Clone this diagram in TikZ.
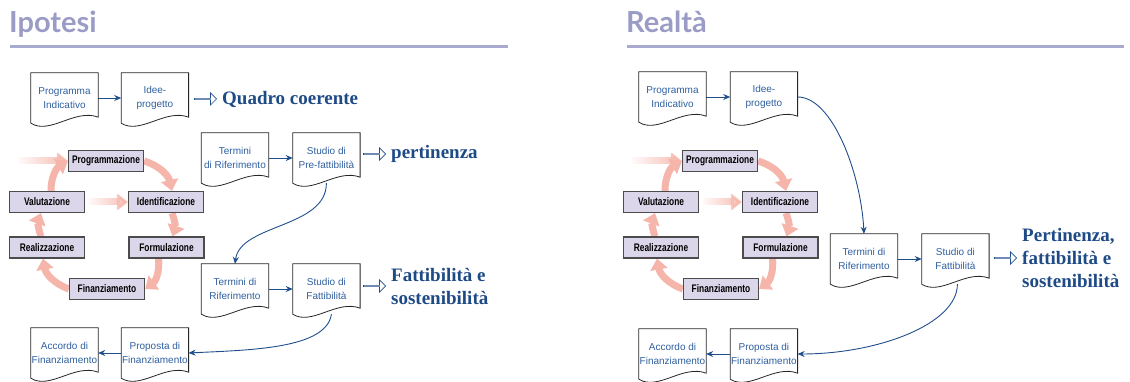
\documentclass[tikz,border=0pt]{standalone}
\usepackage{fontspec}
\setmainfont{Liberation Serif}
\setsansfont{Liberation Sans}
\newfontfamily\titlefont{Lato}
\usepackage{graphicx}
\usetikzlibrary{positioning, arrows.meta, fadings, shapes.arrows}

\definecolor{docblue}{HTML}{2F5F9F}
\definecolor{arrowblue}{HTML}{1F4E8C}
\definecolor{bigblue}{HTML}{1E4A86}
\definecolor{titlegrey}{HTML}{9A9CC5}
\definecolor{rulegrey}{HTML}{A9ABCE}
\definecolor{faselilla}{HTML}{DCD6EA}
\definecolor{giropink}{HTML}{F5B5AA}

\pgfdeclarelayer{back}
\pgfsetlayers{back,main}
\tikzfading[name=entra, left color=transparent!100, right color=transparent!0]

\newcommand{\stretto}[1]{\scalebox{0.76}[1]{#1}}

\tikzset{
    fase/.style={draw=black!70, line width=1.2pt, fill=faselilla, minimum width=75pt,
        minimum height=21pt, inner sep=0pt, font=\sffamily\bfseries\fontsize{11}{11}\selectfont},
    giro/.style={draw=giropink, line width=7pt, -{Triangle[length=11pt,width=17pt]}},
    ingresso/.style={giro, path fading=entra},
    ciclo/.pic={
        \node[fase] (-prog)  at (0,64)       {\stretto{Programmazione}};
        \node[fase] (-val)   at (-59,23)     {\stretto{Valutazione}};
        \node[fase] (-ident) at (60,23)      {\stretto{Identificazione}};
        \node[fase] (-real)  at (-59,-22.5)  {\stretto{Realizzazione}};
        \node[fase] (-form)  at (60.5,-22.5) {\stretto{Formulazione}};
        \node[fase] (-fin)   at (1,-64)      {\stretto{Finanziamento}};
        \coordinate (-in1) at (-88,64);
        \coordinate (-in2) at (-17,23);
        \begin{pgfonlayer}{back}
            \draw[ingresso] (-in1) -- (-prog.west);
            \draw[ingresso] (-in2) -- (-ident.west);
            \draw[giro] (-prog.east) to[bend left=30] ([xshift=6pt]-ident.north);
            \draw[giro] ([xshift=6pt]-ident.south) to[bend left=20] ([xshift=6pt]-form.north);
            \draw[giro] ([xshift=-8pt]-form.south) to[bend left=30] (-fin.east);
            \draw[giro] (-fin.west) to[bend left=30] ([xshift=-4pt]-real.south);
            \draw[giro] ([xshift=-6pt]-real.north) to[bend left=20] ([xshift=-6pt]-val.south);
            \draw[giro] ([xshift=4pt]-val.north) to[bend left=30] (-prog.west);
        \end{pgfonlayer}
    }
}

\begin{document}
\begin{tikzpicture}[x=1pt, y=1pt, >={Stealth[length=7pt,width=6pt]},
        doc/.style={minimum width=67pt, minimum height=50pt, inner sep=0pt, align=center,
            text=docblue, font=\sffamily\fontsize{10}{14.5}\selectfont},
        flow/.style={->, draw=arrowblue, line width=0.9pt},
        implica/.style={single arrow, draw=arrowblue, line width=0.7pt, inner sep=0pt,
            minimum height=22pt, minimum width=12pt, single arrow head extend=3pt},
        esito/.style={anchor=west, text=bigblue, inner sep=0pt, align=left,
            font=\bfseries\fontsize{19}{23}\selectfont},
        titolo/.style={anchor=base west, text=titlegrey, inner sep=0pt,
            font=\titlefont\bfseries\fontsize{29}{29}\selectfont}]

    \useasboundingbox (0,0) rectangle (1130,-382);

    % Ipotesi
    \node[titolo]                   (tit1)  at (9,-33)    {Ipotesi};
    \draw[rulegrey, line width=3pt] (10,-47) -- (508,-47);

    \node[doc]                      (pi1)   at (64.5,-98) {Programma\\Indicativo};
    \node[doc, right=23pt of pi1]   (ip1)                 {Idee-\\progetto};
    \node[esito]                    (quadro) at (222,-99) {Quadro coerente};
    \node[implica, left=5pt of quadro] (iq) {};
    \node[doc]                      (tr1)   at (235,-158) {Termini\\di Riferimento};
    \node[doc, right=24pt of tr1]   (sp1)                 {Studio di\\Pre-fattibilità};
    \node[esito]                    (pert)  at (391,-154) {pertinenza};
    \node[implica, left=5pt of pert] (ipe) {};
    \node[doc]                      (tr2)   at (235,-289) {Termini di\\Riferimento};
    \node[doc, right=24pt of tr2]   (sf2)                 {Studio di\\Fattibilità};
    \node[esito]                    (fatt)  at (391,-286) {Fattibilità e\\sostenibilità};
    \node[implica, left=5pt of fatt] (ifa) {};
    \node[doc]                      (ac1)   at (64.5,-353) {Accordo di\\Finanziamento};
    \node[doc, right=23pt of ac1]   (pf1)                 {Proposta di\\Finanziamento};
    \pic (L) at (106,-225) {ciclo};

    \draw[flow] (pi1) -- (ip1);
    \draw[flow] (tr1) -- (sp1);
    \draw[flow] (sp1.south) .. controls +(0,-45) and +(5,40) .. (tr2.north);
    \draw[flow] (tr2) -- (sf2);
    \draw[flow] ([xshift=5pt]sf2.south) .. controls +(-5,-35) and +(60,3) .. (pf1.east);
    \draw[flow] (pf1) -- (ac1);

    % Realta
    \node[titolo]                   (tit2)  at (626,-33)  {Realtà};
    \draw[rulegrey, line width=3pt] (627,-47) -- (1124,-47);

    \node[doc]                      (pi2)   at (672.5,-97) {Programma\\Indicativo};
    \node[doc, right=24pt of pi2]   (ip2)                  {Idee-\\progetto};
    \node[doc]                      (tr3)   at (864,-259)  {Termini di\\Riferimento};
    \node[doc, right=24pt of tr3]   (sf3)                  {Studio di\\Fattibilità};
    \node[esito]                    (sint)  at (1022,-258) {Pertinenza,\\fattibilità e\\sostenibilità};
    \node[implica, left=5pt of sint] (isi) {};
    \node[doc]                      (ac2)   at (672.5,-354) {Accordo di\\Finanziamento};
    \node[doc, right=24pt of ac2]   (pf2)                  {Proposta di\\Finanziamento};
    \pic (R) at (720,-225) {ciclo};

    \draw[flow] (pi2) -- (ip2);
    \draw[flow] (ip2.east) .. controls +(35,0) and +(-3,60) .. (tr3.north);
    \draw[flow] (tr3) -- (sf3);
    \draw[flow] ([xshift=2pt]sf3.south) .. controls +(0,-40) and +(80,0) .. (pf2.east);
    \draw[flow] (pf2) -- (ac2);

    % document outlines
    \foreach \d in {pi1,ip1,tr1,sp1,tr2,sf2,ac1,pf1,pi2,ip2,tr3,sf3,ac2,pf2}
        \draw[black!85, line width=0.8pt] (\d.north west) -- (\d.north east)
            -- ([yshift=6pt]\d.south east) .. controls +(-23,9) and +(19,-12) .. (\d.south west) -- cycle;

\end{tikzpicture}
\end{document}
